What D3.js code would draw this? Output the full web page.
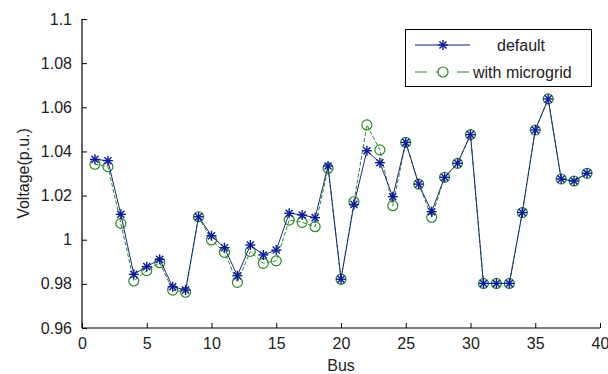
<!DOCTYPE html>
<html>
<head>
<meta charset="utf-8">
<script src="https://cdn.jsdelivr.net/npm/d3@7"></script>
<style>
  body { margin: 0; background: #fff; }
  text { font-family: "Liberation Sans", Arial, sans-serif; fill: #222; }
</style>
</head>
<body>
<svg id="chart" width="608" height="374"></svg>
<script>
const buses = d3.range(1, 40);
const defaultV = [1.0364, 1.0358, 1.0115, 0.9843, 0.9878, 0.9911, 0.9787, 0.9772, 1.0104, 1.0018,
  0.9964, 0.9837, 0.9976, 0.9931, 0.9953, 1.0120, 1.0112, 1.0100, 1.0334, 0.9821,
  1.0160, 1.0403, 1.0349, 1.0195, 1.0441, 1.0252, 1.0127, 1.0283, 1.0346, 1.0476,
  0.9802, 0.9802, 0.9802, 1.0123, 1.0497, 1.0638, 1.0275, 1.0266, 1.0301];
const microgridV = [1.0342, 1.0331, 1.0074, 0.9813, 0.9860, 0.9896, 0.9772, 0.9762, 1.0104, 0.9999,
  0.9943, 0.9807, 0.9947, 0.9893, 0.9904, 1.0089, 1.0079, 1.0059, 1.0324, 0.9821,
  1.0172, 1.0520, 1.0407, 1.0154, 1.0441, 1.0252, 1.0102, 1.0283, 1.0346, 1.0476,
  0.9802, 0.9802, 0.9802, 1.0123, 1.0497, 1.0638, 1.0275, 1.0266, 1.0301];
const xTicks = [0, 5, 10, 15, 20, 25, 30, 35, 40];
const yTicks = [0.96, 0.98, 1.00, 1.02, 1.04, 1.06, 1.08, 1.10];
const yTickLabels = ["0.96", "0.98", "1", "1.02", "1.04", "1.06", "1.08", "1.1"];
const seriesNames = ["default", "with microgrid"];

const blue = "#0a1a9a", blueLine = "#1c2a7a", green = "#2a8a2a";

const svg = d3.select("#chart");
const x = d3.scaleLinear().domain([0, 40]).range([82, 600]);
const y = d3.scaleLinear().domain([0.96, 1.1]).range([328, 19]);

// Axes (MATLAB style, inward ticks, no box)
const xAxis = d3.axisBottom(x).tickValues(xTicks).tickSize(-5).tickPadding(10).tickFormat(d3.format("d"));
const gx = svg.append("g").attr("transform", `translate(0,${y(0.96)})`).call(xAxis);
const yAxis = d3.axisLeft(y).tickValues(yTicks).tickSize(-5).tickPadding(10)
  .tickFormat((d, i) => yTickLabels[i]);
const gy = svg.append("g").attr("transform", `translate(${x(0)},0)`).call(yAxis);
[gx, gy].forEach(g => {
  g.select(".domain").attr("stroke", "#000").attr("stroke-width", 1.2);
  g.selectAll(".tick line").attr("stroke", "#000");
  g.selectAll(".tick text").attr("font-size", 16).attr("fill", "#222")
    .attr("font-family", "'Liberation Sans', Arial, sans-serif");
});
gy.select(".domain").attr("d", `M0,${y(0.96)}V${y(1.1)}`);
gx.select(".domain").attr("d", `M${x(0)},0H${x(40)}`);

svg.append("text").attr("x", x(20)).attr("y", 371).attr("text-anchor", "middle")
  .attr("font-size", 16).text("Bus");
svg.append("text").attr("transform", `translate(29,${(y(0.96) + y(1.1)) / 2}) rotate(-90)`)
  .attr("text-anchor", "middle").attr("font-size", 16).text("Voltage(p.u.)");

const line = d3.line().x((d, i) => x(buses[i])).y(d => y(d));

// microgrid series
svg.append("path").datum(microgridV).attr("d", line).attr("fill", "none")
  .attr("stroke", green).attr("stroke-width", 1).attr("stroke-dasharray", "4,2");
svg.append("g").selectAll("circle").data(microgridV).join("circle")
  .attr("cx", (d, i) => x(buses[i])).attr("cy", d => y(d)).attr("r", 5)
  .attr("fill", "none").attr("stroke", green).attr("stroke-width", 1.2);

// default series
svg.append("path").datum(defaultV).attr("d", line).attr("fill", "none")
  .attr("stroke", blueLine).attr("stroke-width", 1);
function star(g, cx, cy, r, color) {
  const s = g.append("g").attr("transform", `translate(${cx},${cy})`)
    .attr("stroke", color).attr("stroke-width", 1.4);
  [0, 45, 90, 135].forEach(a => {
    const rad = a * Math.PI / 180;
    s.append("line").attr("x1", -r * Math.cos(rad)).attr("y1", -r * Math.sin(rad))
      .attr("x2", r * Math.cos(rad)).attr("y2", r * Math.sin(rad));
  });
}
const gs = svg.append("g");
defaultV.forEach((d, i) => star(gs, x(buses[i]), y(d), 5, blue));

// Legend
const lg = svg.append("g");
lg.append("rect").attr("x", 405.5).attr("y", 29.5).attr("width", 186).attr("height", 57)
  .attr("fill", "#fff").attr("stroke", "#000").attr("stroke-width", 1);
lg.append("line").attr("x1", 415).attr("x2", 470).attr("y1", 45).attr("y2", 45)
  .attr("stroke", blue).attr("stroke-width", 1);
star(lg, 443, 45, 5, blue);
lg.append("text").attr("x", 497).attr("y", 51).attr("font-size", 16).text(seriesNames[0]);
lg.append("line").attr("x1", 415).attr("x2", 470).attr("y1", 72).attr("y2", 72)
  .attr("stroke", green).attr("stroke-width", 1).attr("stroke-dasharray", "12,9");
lg.append("circle").attr("cx", 443).attr("cy", 72).attr("r", 5).attr("fill", "#fff")
  .attr("stroke", green).attr("stroke-width", 1.2);
lg.append("text").attr("x", 473).attr("y", 78).attr("font-size", 16).text(seriesNames[1]);
</script>
</body>
</html>
